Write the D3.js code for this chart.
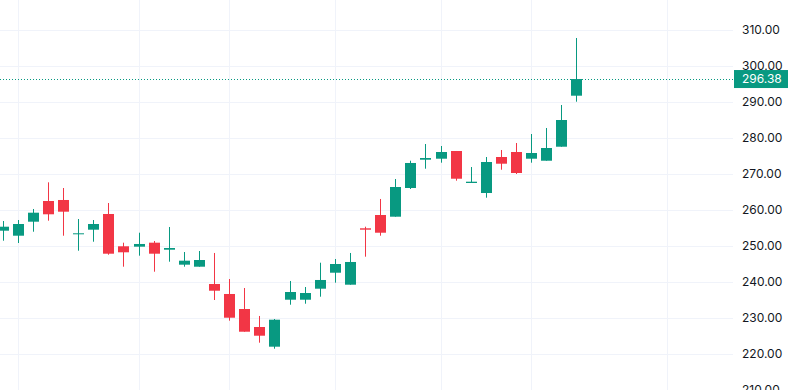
<!DOCTYPE html>
<html>
<head>
<meta charset="utf-8">
<script src="https://d3js.org/d3.v7.min.js"></script>
<style>
    body { margin: 0; background: #ffffff; }
    svg { display: block; }
    .axis-label { font-family: Inter, "Noto Sans", sans-serif; font-size: 12px; fill: #131722; }
</style>
</head>
<body>
<svg width="792" height="390"></svg>
<script>
    // candle values (one entry per bar)
    const opens  = [254.25, 252.86, 256.75, 262.50, 262.78, 253.25, 254.53, 258.89, 249.92, 249.81,
                    250.92, 248.97, 244.81, 244.25, 239.44, 236.67, 232.50, 227.50, 222.03, 235.08,
                    235.08, 238.14, 242.58, 239.25, 254.92, 258.61, 258.14, 266.11, 273.97, 274.25,
                    276.39, 267.50, 264.72, 274.72, 276.11, 274.25, 273.69, 277.58, 291.75];
    const highs  = [256.94, 257.22, 260.28, 267.69, 266.11, 257.50, 257.22, 261.94, 250.92, 253.69,
                    251.39, 255.28, 248.33, 248.61, 248.06, 240.83, 238.33, 230.56, 229.72, 240.28,
                    238.61, 245.36, 246.39, 248.06, 255.36, 263.06, 268.61, 273.69, 278.33, 277.78,
                    276.39, 271.94, 274.72, 276.67, 278.61, 281.11, 282.78, 289.17, 307.78];
    const lows   = [251.47, 250.83, 253.97, 257.03, 252.86, 248.69, 251.19, 247.58, 244.25, 247.31,
                    242.86, 245.64, 244.25, 244.25, 235.00, 229.25, 226.19, 223.14, 221.47, 233.69,
                    233.97, 235.92, 239.81, 239.25, 247.03, 252.86, 258.14, 265.83, 271.47, 273.14,
                    268.14, 267.50, 263.42, 271.19, 270.00, 273.14, 273.69, 277.58, 290.08];
    const closes = [255.36, 256.11, 259.25, 258.81, 259.53, 253.53, 256.11, 247.86, 248.25, 250.56,
                    247.86, 249.44, 245.92, 246.11, 237.58, 230.08, 226.19, 225.08, 229.53, 237.22,
                    236.94, 240.56, 245.00, 245.56, 254.53, 253.69, 266.39, 273.06, 274.44, 276.11,
                    268.69, 267.86, 273.33, 272.86, 270.28, 275.83, 277.22, 285.00, 296.38];

    // price axis ticks and the bar indexes where the time grid lines fall
    const priceTicks = [210, 220, 230, 240, 250, 260, 270, 280, 290, 300, 310];
    const timeGridBars = [1, 9, 15, 22, 29, 35, 44];

    const upColor = "#089981";
    const downColor = "#F23645";
    const gridColor = "#F0F3FA";

    const svg = d3.select("svg");
    const paneWidth = 733;
    const height = 390;

    const data = opens.map((o, i) => ({ i: i, o: o, h: highs[i], l: lows[i], c: closes[i] }));

    // bar index -> x (bar spacing ~15.1px)
    const x = d3.scaleLinear().domain([0, 38]).range([2.6, 576.4]);
    const y = d3.scaleLinear().domain([210, 310]).range([390, 30]);
    const bodyWidth = 11;

    // grid
    const grid = svg.append("g");
    grid.selectAll(".hgrid")
        .data(priceTicks)
        .enter().append("line")
        .attr("x1", 0).attr("x2", paneWidth)
        .attr("y1", d => Math.round(y(d)) + 0.5)
        .attr("y2", d => Math.round(y(d)) + 0.5)
        .attr("stroke", gridColor);
    grid.selectAll(".vgrid")
        .data(timeGridBars)
        .enter().append("line")
        .attr("x1", d => Math.round(x(d)) + 0.5)
        .attr("x2", d => Math.round(x(d)) + 0.5)
        .attr("y1", 0).attr("y2", height)
        .attr("stroke", gridColor);

    // candles
    const candles = svg.append("g").selectAll("g")
        .data(data)
        .enter().append("g");

    candles.append("line")
        .attr("x1", d => Math.round(x(d.i)) + 0.5)
        .attr("x2", d => Math.round(x(d.i)) + 0.5)
        .attr("y1", d => y(d.h))
        .attr("y2", d => y(d.l))
        .attr("stroke", d => d.c >= d.o ? upColor : downColor)
        .attr("stroke-width", 1);

    candles.append("rect")
        .attr("x", d => Math.round(x(d.i)) - (bodyWidth - 1) / 2)
        .attr("width", bodyWidth)
        .attr("y", d => y(Math.max(d.o, d.c)))
        .attr("height", d => Math.max(1, Math.abs(y(d.o) - y(d.c))))
        .attr("fill", d => d.c >= d.o ? upColor : downColor);

    // last price line
    const last = data[data.length - 1];
    svg.append("line")
        .attr("x1", 0).attr("x2", paneWidth)
        .attr("y1", Math.round(y(last.c)) + 0.5)
        .attr("y2", Math.round(y(last.c)) + 0.5)
        .attr("stroke", upColor)
        .attr("stroke-dasharray", "1 2");

    // price axis
    const axis = svg.append("g");
    axis.selectAll("text")
        .data(priceTicks)
        .enter().append("text")
        .attr("class", "axis-label")
        .attr("x", 742)
        .attr("y", d => y(d))
        .attr("dy", "0.35em")
        .text(d => d3.format(".2f")(d));

    // last price label
    axis.append("rect")
        .attr("x", 734).attr("width", 54)
        .attr("y", y(last.c) - 9).attr("height", 18)
        .attr("fill", upColor);
    axis.append("text")
        .attr("class", "axis-label")
        .attr("x", 742)
        .attr("y", y(last.c))
        .attr("dy", "0.35em")
        .style("fill", "#ffffff")
        .text(d3.format(".2f")(last.c));
</script>
</body>
</html>
